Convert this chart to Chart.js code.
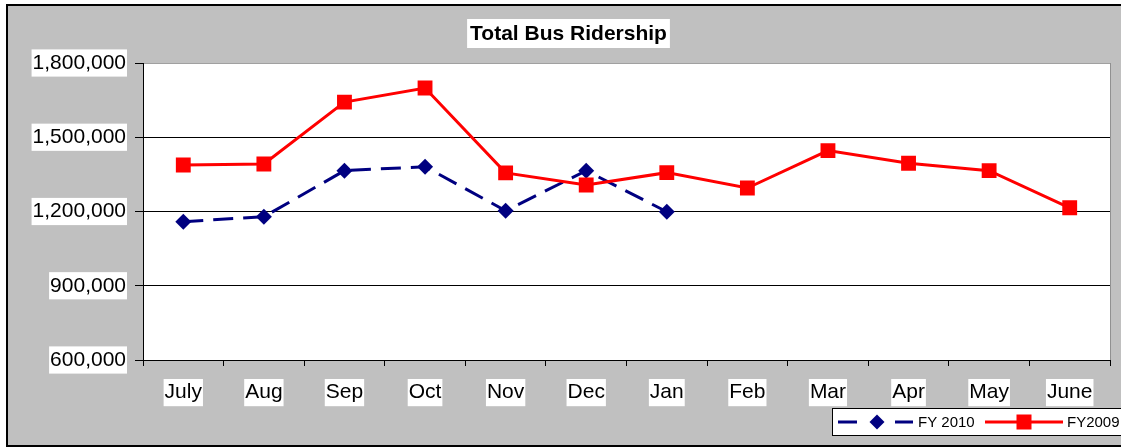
<!DOCTYPE html>
<html><head><meta charset="utf-8">
<script src="https://cdn.jsdelivr.net/npm/chart.js@4.4.0/dist/chart.umd.min.js"></script>
<style>html,body{margin:0;padding:0;background:#fff;} #wrap{width:1121px;height:448px;}</style>
</head><body><div id="wrap"><canvas id="c" width="1121" height="448"></canvas></div>
<script>
const months = ['July','Aug','Sep','Oct','Nov','Dec','Jan','Feb','Mar','Apr','May','June'];
const fy2010 = [1159000, 1179000, 1365000, 1381000, 1203000, 1365000, 1199000, null, null, null, null, null];
const fy2009 = [1388000, 1392000, 1642000, 1699000, 1356000, 1307000, 1357000, 1295000, 1446000, 1395000, 1365000, 1215000];
const yTicks = [600000, 900000, 1200000, 1500000, 1800000];
const chartTitle = 'Total Bus Ridership';
const seriesNames = ['FY 2010', 'FY2009'];
const FONT = '"Liberation Sans", Arial, sans-serif';

const frame = {
  id: 'frame',
  beforeDraw(chart) {
    const { ctx, chartArea: a } = chart;
    ctx.save();
    ctx.fillStyle = '#fff'; ctx.fillRect(0, 0, chart.width, chart.height);
    ctx.fillStyle = '#c0c0c0'; ctx.fillRect(7, 5, chart.width, 441);
    ctx.strokeStyle = '#000'; ctx.lineWidth = 2; ctx.strokeRect(7, 5, chart.width + 10, 441);
    ctx.fillStyle = '#fff'; ctx.fillRect(a.left, a.top, a.right - a.left, a.bottom - a.top);
    ctx.strokeStyle = '#909090'; ctx.lineWidth = 1;
    ctx.beginPath(); ctx.moveTo(a.right + 0.5, a.top); ctx.lineTo(a.right + 0.5, a.bottom); ctx.stroke();
    // title
    ctx.font = 'bold 21px ' + FONT;
    const w = ctx.measureText(chartTitle).width;
    const cx = 568.5;
    ctx.fillStyle = '#fff';
    ctx.fillRect(cx - w / 2 - 3, 19, w + 6, 29);
    ctx.fillStyle = '#000'; ctx.textAlign = 'center'; ctx.textBaseline = 'middle';
    ctx.fillText(chartTitle, cx, 34);
    ctx.restore();
  },
  afterDraw(chart) {
    const { ctx } = chart;
    const ds = chart.data.datasets;
    ctx.save();
    ctx.fillStyle = '#fff'; ctx.fillRect(832.5, 408.5, 320, 27);
    ctx.strokeStyle = '#000'; ctx.lineWidth = 1; ctx.strokeRect(832.5, 408.5, 320, 27);
    const y = 422;
    // FY 2010
    ctx.strokeStyle = ds[0].borderColor; ctx.lineWidth = 3;
    ctx.beginPath(); ctx.moveTo(838, y); ctx.lineTo(857, y); ctx.moveTo(895, y); ctx.lineTo(913, y); ctx.stroke();
    ctx.fillStyle = ds[0].borderColor;
    ctx.beginPath(); ctx.moveTo(877, y - 7.5); ctx.lineTo(884.5, y); ctx.lineTo(877, y + 7.5); ctx.lineTo(869.5, y); ctx.closePath(); ctx.fill();
    ctx.font = '15px ' + FONT; ctx.fillStyle = '#000'; ctx.textBaseline = 'middle'; ctx.textAlign = 'left';
    ctx.fillText(seriesNames[0], 918, y + 1);
    // FY2009
    ctx.strokeStyle = ds[1].borderColor; ctx.lineWidth = 3;
    ctx.beginPath(); ctx.moveTo(985, y); ctx.lineTo(1063, y); ctx.stroke();
    ctx.fillStyle = ds[1].borderColor; ctx.fillRect(1024 - 7.5, y - 7.5, 15, 15);
    ctx.fillStyle = '#000'; ctx.fillText(seriesNames[1], 1067, y + 1);
    ctx.restore();
  }
};

const tickFont = { family: FONT, size: 21 };
new Chart(document.getElementById('c'), {
  type: 'line',
  data: {
    labels: months,
    datasets: [
      { label: seriesNames[0], data: fy2010, borderColor: '#000080', backgroundColor: '#000080',
        borderWidth: 3, borderDash: [20, 10], pointStyle: 'rectRot', pointRadius: 8,
        pointBorderWidth: 0, pointBackgroundColor: '#000080', tension: 0, spanGaps: false, order: 2 },
      { label: seriesNames[1], data: fy2009, borderColor: '#ff0000', backgroundColor: '#ff0000',
        borderWidth: 3, pointStyle: 'rect', pointRadius: 10.5, pointBorderWidth: 0,
        pointBackgroundColor: '#ff0000', tension: 0, order: 1 }
    ]
  },
  options: {
    responsive: false, animation: false,
    layout: { padding: { top: 63, right: 11, left: 0, bottom: 0 } },
    plugins: { legend: { display: false }, title: { display: false }, tooltip: { enabled: false } },
    scales: {
      x: {
        offset: true,
        grid: { offset: true, drawOnChartArea: false, drawTicks: true, tickLength: 6, tickColor: '#000', color: '#000' },
        border: { color: '#000', width: 1 },
        ticks: { color: '#000', font: tickFont, padding: 14, showLabelBackdrop: true, backdropColor: '#fff',
          backdropPadding: 1, maxRotation: 0, autoSkip: false },
        afterFit(s) { s.height = 88; }
      },
      y: {
        min: yTicks[0], max: yTicks[yTicks.length - 1],
        afterBuildTicks(s) { s.ticks = yTicks.map(v => ({ value: v })); },
        grid: { color: c => (c.tick && c.tick.value === yTicks[yTicks.length - 1]) ? '#a0a0a0' : '#000', tickColor: '#000', tickLength: 8 },
        border: { color: '#000', width: 1 },
        ticks: { color: '#000', font: tickFont, padding: 9, callback: v => Number(v).toLocaleString('en-US'),
          showLabelBackdrop: true, backdropColor: '#fff', backdropPadding: 1 },
        afterFit(s) { s.width = 143; }
      }
    }
  },
  plugins: [frame]
});
</script></body></html>
